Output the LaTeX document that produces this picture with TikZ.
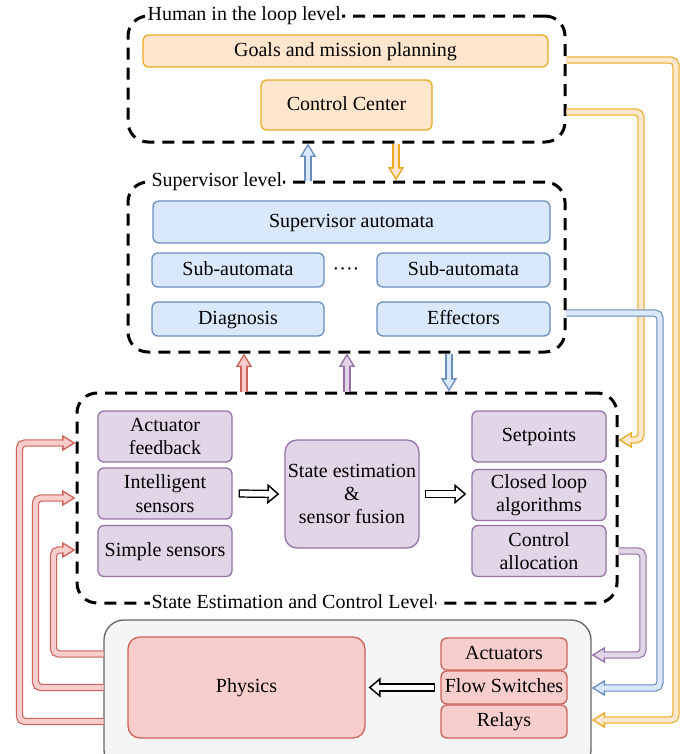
\documentclass[tikz,border=0pt]{standalone}
\usepackage{fontspec}
\setmainfont{Liberation Serif}
\usetikzlibrary{arrows.meta}

\definecolor{orgF}{RGB}{255,230,204}
\definecolor{orgD}{RGB}{235,170,35}
\definecolor{bluF}{RGB}{218,232,252}
\definecolor{bluD}{RGB}{108,142,191}
\definecolor{purF}{RGB}{225,213,231}
\definecolor{purD}{RGB}{150,115,166}
\definecolor{redF}{RGB}{248,206,204}
\definecolor{redD}{RGB}{208,98,92}
\definecolor{gryF}{RGB}{245,245,245}
\definecolor{gryD}{RGB}{102,102,102}

\begin{document}
\begin{tikzpicture}[x=0.75pt,y=0.75pt,yscale=-1,xscale=1,
  font=\fontsize{15}{17.5}\selectfont,
  box/.style={draw=#1D,fill=#1F,line width=1pt,rounded corners=4.5pt,align=center,inner sep=0.5pt},
  oneline/.style={text height=1em,text depth=0.2em},
  level/.style={draw=black,line width=2.25pt,dash pattern=on 9pt off 6pt,rounded corners=15pt},
  lvltitle/.style={fill=white,inner sep=1pt,anchor=west},
  flex/.style={draw=#1F,line width=3.6pt,rounded corners=4pt,
    -{Triangle[length=10pt,width=12pt,line width=1pt,color=#1D,fill=#1F]},
    preaction={draw=#1D,line width=5.6pt,arrows=-,shorten >=5pt},
    postaction={draw=#1F,line width=3.6pt,arrows=-,shorten >=8.5pt}},
  hollow/.style={draw=white,line width=4pt,shorten <=1.1pt,
    -{Triangle[length=9pt,width=15pt,line width=1.1pt,color=black,fill=white]},
    preaction={draw=black,line width=6.2pt,arrows=-,shorten <=0pt,shorten >=5pt},
    postaction={draw=white,line width=4pt,arrows=-,shorten <=1.1pt,shorten >=7.5pt}}
]
\useasboundingbox (0,0) rectangle (687,754);

%Level containers
\node [level,minimum width=327.75pt,minimum height=94.5pt] (human) at (346.5,79) {};
\node [level,minimum width=327.75pt,minimum height=127.5pt] (sup) at (346.5,267) {};
\node [level,minimum width=405pt,minimum height=157.5pt] (state) at (347,498) {};
\node [draw=gryD,fill=gryF,line width=1pt,rounded corners=15pt,minimum width=365.25pt,minimum height=112.5pt] (plant) at (347.5,695) {};

% Text Node
\node [lvltitle] (humant) at (146,16) {Human in the loop level};
\node [lvltitle] (supt) at (150,182) {Supervisor level};
\node [lvltitle] (statet) at (150,602) {State Estimation and Control Level};

%Human level
\node [box=org,oneline,minimum width=303.75pt,minimum height=24pt] (goals) at (345.5,51) {Goals and mission planning};
\node [box=org,oneline,minimum width=128.25pt,minimum height=37.5pt] (ctrl) at (346.5,105) {Control Center};

%Supervisor level
\node [box=blu,oneline,minimum width=297.75pt,minimum height=31.5pt] (supaut) at (351.5,222) {Supervisor automata};
\node [box=blu,oneline,minimum width=129pt,minimum height=25.5pt] (subl) at (238,270) {Sub-automata};
\node [box=blu,oneline,minimum width=129.75pt,minimum height=25.5pt] (subr) at (463.5,270) {Sub-automata};
\node [oneline] (dots) at (346,270) {····};
\node [box=blu,oneline,minimum width=129pt,minimum height=25.5pt] (diag) at (238,319) {Diagnosis};
\node [box=blu,oneline,minimum width=129.75pt,minimum height=25.5pt] (eff) at (463.5,319) {Effectors};

%State estimation and control level
\node [box=pur,minimum width=100.5pt,minimum height=38.25pt] (actfb) at (165,436.5) {Actuator\\feedback};
\node [box=pur,minimum width=100.5pt,minimum height=38.25pt] (intsens) at (165,493.5) {Intelligent\\sensors};
\node [box=pur,oneline,minimum width=100.5pt,minimum height=38.25pt] (simsens) at (165,551) {Simple sensors};
\node [box=pur,minimum width=100.5pt,minimum height=81pt,rounded corners=9pt] (fusion) at (352,494) {State estimation\\\&\\sensor fusion};
\node [box=pur,oneline,minimum width=100.5pt,minimum height=38.25pt] (setp) at (539,436.5) {Setpoints};
\node [box=pur,minimum width=100.5pt,minimum height=38.25pt] (closed) at (539,495) {Closed loop\\algorithms};
\node [box=pur,minimum width=100.5pt,minimum height=38.25pt] (alloc) at (539,551) {Control\\allocation};

%Plant
\node [box=red,oneline,minimum width=177.75pt,minimum height=75.75pt,rounded corners=9pt] (phys) at (246.5,687.5) {Physics};
\node [box=red,oneline,minimum width=94.5pt,minimum height=24pt] (act) at (504,654) {Actuators};
\node [box=red,oneline,minimum width=94.5pt,minimum height=24.75pt] (flow) at (504,687.5) {Flow Switches};
\node [box=red,oneline,minimum width=94.5pt,minimum height=24.75pt] (rel) at (504,721.5) {Relays};

%Rails
\coordinate (xa) at (308,0);
\coordinate (xb) at (396,0);
\coordinate (xc) at (244,0);
\coordinate (xd) at (347,0);
\coordinate (xe) at (449,0);
\coordinate (o1) at (676,720);
\coordinate (o2) at (641,440);
\coordinate (b1) at (660,688);
\coordinate (p1) at (643,655);
\coordinate (r1) at (19.5,443);
\coordinate (r2) at (35.5,498);
\coordinate (r3) at (53.5,550);

%Between levels
\draw [flex=blu] (sup.north -| xa) -- (human.south -| xa);
\draw [flex=org] (human.south -| xb) -- (sup.north -| xb);
\draw [flex=red] (state.north -| xc) -- (sup.south -| xc);
\draw [flex=pur] (state.north -| xd) -- (sup.south -| xd);
\draw [flex=blu] (sup.south -| xe) -- (state.north -| xe);

%Right side
\draw [flex=org] ([yshift=-14.25pt]human.east) -| (o1) -- (plant.east |- o1);
\draw [flex=org] ([yshift=24.75pt]human.east) -| (o2) -- (state.east |- o2);
\draw [flex=blu] ([yshift=-4.5pt]sup.east |- eff.east) -| (b1) -- (plant.east |- b1);
\draw [flex=pur] (state.east |- alloc.east) -| (p1) -- (plant.east |- p1);

%Left side
\draw [flex=red] (plant.west |- rel.west) -| (r1) -- (state.west |- r1);
\draw [flex=red] (plant.west |- flow.west) -| (r2) -- (state.west |- r2);
\draw [flex=red] (plant.west |- act.west) -| (r3) -- (state.west |- r3);

%Hollow arrows
\draw [hollow] ([xshift=4.5pt]intsens.east) -- ([xshift=-3.75pt]fusion.west);
\draw [hollow] ([xshift=3.75pt]fusion.east) -- ([xshift=-3.75pt]closed.west |- fusion.east);
\draw [hollow] ([xshift=-3.75pt]flow.west) -- ([xshift=2.25pt]phys.east |- flow.west);

\end{tikzpicture}
\end{document}
